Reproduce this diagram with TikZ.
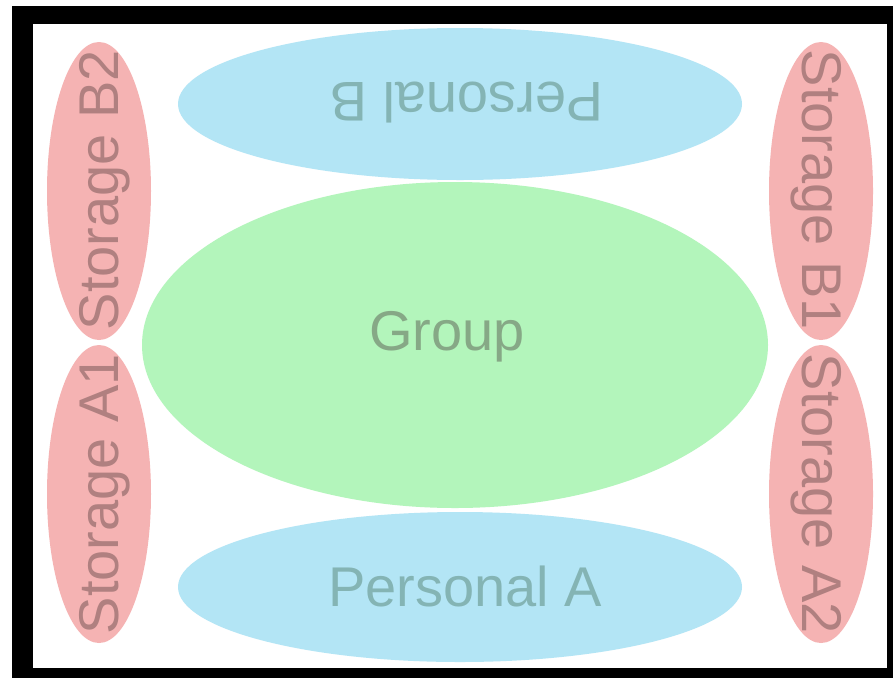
\documentclass[tikz,border=0pt]{standalone}
\usepackage{fontspec}
\setmainfont{Liberation Sans}
\usetikzlibrary{shapes.geometric}
\definecolor{pinkfill}{RGB}{245,179,179}
\definecolor{pinktext}{RGB}{176,128,128}
\definecolor{bluefill}{RGB}{179,229,245}
\definecolor{bluetext}{RGB}{132,180,180}
\definecolor{greenfill}{RGB}{179,245,187}
\definecolor{greentext}{RGB}{134,168,134}
\tikzset{
  blob/.style={ellipse, draw=none, inner sep=0pt},
  lbl/.style={font=\fontsize{56}{60}\selectfont, inner sep=0pt,
              text height=40pt, text depth=0pt, anchor=center},
}
\begin{document}
\begin{tikzpicture}[x=1pt, y=-1pt]
  \useasboundingbox (0,0) rectangle (893,678);
  \fill[white] (0,0) rectangle (893,678);
  % thick black frame around the white canvas
  \fill[black] (12,6) rectangle (893,678);
  \fill[white] (33,24) rectangle (887,668);

  % regions
  \node[blob, fill=greenfill, minimum width=626pt, minimum height=326pt] (group) at (455,345) {};
  \node[blob, fill=bluefill, minimum width=564pt, minimum height=152pt] (persB) at (460,104) {};
  \node[blob, fill=bluefill, minimum width=564pt, minimum height=150pt] (persA) at (460,587) {};
  \node[blob, fill=pinkfill, minimum width=104pt, minimum height=298pt] (stB2) at (99,191) {};
  \node[blob, fill=pinkfill, minimum width=104pt, minimum height=298pt] (stA1) at (99,494) {};
  \node[blob, fill=pinkfill, minimum width=104pt, minimum height=298pt] (stB1) at (821,191) {};
  \node[blob, fill=pinkfill, minimum width=104pt, minimum height=298pt] (stA2) at (821,494) {};

  % labels
  \node[lbl, text=greentext] (tgroup) at (447,330) {Group};
  \node[lbl, text=bluetext] (tpersA) at (465,586) {Personal A};
  \node[lbl, text=bluetext, rotate=180] (tpersB) at (467,102) {Personal B};
  \node[lbl, text=pinktext, rotate=90] (tstB2) at (98,190) {Storage B2};
  \node[lbl, text=pinktext, rotate=90] (tstA1) at (98,494) {Storage A1};
  \node[lbl, text=pinktext, rotate=-90] (tstB1) at (822,190) {Storage B1};
  \node[lbl, text=pinktext, rotate=-90] (tstA2) at (822,494) {Storage A2};
\end{tikzpicture}
\end{document}
